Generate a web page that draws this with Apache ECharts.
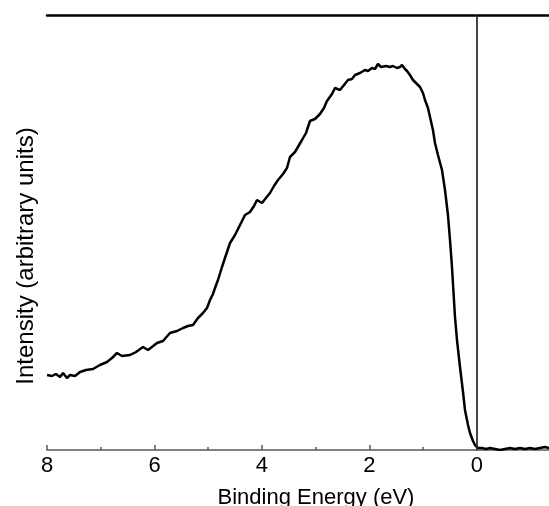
<!DOCTYPE html>
<html>
<head>
<meta charset="utf-8">
<script src="https://cdn.jsdelivr.net/npm/echarts@6/dist/echarts.min.js"></script>
<style>html,body{margin:0;padding:0;background:#fff;}#c{width:549px;height:506px;}</style>
</head>
<body>
<div id="c"></div>
<script>
// Binding energy (eV) of each sample
var energy = [8.000,7.907,7.833,7.758,7.702,7.628,7.572,7.479,7.386,7.274,7.144,7.014,6.884,6.791,6.698,6.605,6.456,6.344,6.214,6.121,5.953,5.842,5.712,5.581,5.470,5.377,5.284,5.191,5.098,5.023,4.967,4.912,4.874,4.819,4.744,4.670,4.595,4.502,4.409,4.316,4.223,4.149,4.093,4.000,3.926,3.851,3.777,3.702,3.609,3.535,3.479,3.386,3.256,3.181,3.107,3.014,2.921,2.847,2.791,2.698,2.642,2.549,2.474,2.400,2.326,2.270,2.177,2.084,2.028,1.953,1.898,1.842,1.786,1.749,1.693,1.619,1.563,1.488,1.433,1.395,1.340,1.302,1.247,1.191,1.116,1.060,1.005,0.967,0.912,0.874,0.819,0.781,0.726,0.651,0.595,0.540,0.502,0.465,0.409,0.372,0.316,0.260,0.223,0.167,0.130,0.074,0.037,-0.019,-0.093,-0.167,-0.242,-0.335,-0.428,-0.521,-0.614,-0.707,-0.800,-0.893,-0.986,-1.079,-1.172,-1.265,-1.340];
// Intensity (arbitrary units)
var intensity = [76,75,77,74,78,73,76,75,79,81,82,86,89,93,98,95,96,99,104,101,108,110,118,120,123,125,126,133,138,143,151,157,163,171,184,196,208,216,226,236,239,245,251,248,253,258,265,271,277,283,294,299,311,318,330,332,337,343,350,357,363,361,366,371,372,376,378,381,380,383,382,387,384,382,385,384,385,383,384,386,382,380,376,371,367,364,358,351,343,334,321,308,296,281,261,236,211,184,134,111,84,59,41,26,18,10,6,3,3,2,3,2,1,2,3,2,3,2,3,2,3,4,3];
var xTicks = [8, 6, 4, 2, 0];
var fermiLevel = [0];
var xMin = -8, xMax = 1.34;

var seriesData = energy.map(function (e, i) { return [-e, intensity[i]]; });

var chart = echarts.init(document.getElementById('c'), null, {renderer: 'canvas'});
var font = 'Liberation Sans, Arial, Helvetica, sans-serif';
var grey = '#5a5a5a';
chart.setOption({
  animation: false,
  backgroundColor: '#fff',
  grid: {left: 47, right: 0, top: 15, bottom: 56, containLabel: false},
  xAxis: [{
    type: 'value', min: xMin, max: xMax, interval: 2,
    axisLine: {show: true, onZero: false, lineStyle: {color: grey, width: 1.5}},
    axisTick: {show: true, inside: true, length: 5, lineStyle: {color: grey, width: 1.5}},
    splitLine: {show: false},
    axisLabel: {
      margin: 5, color: '#000', fontSize: 22, fontFamily: font, showMaxLabel: false,
      formatter: function (v) { var r = -v; return xTicks.indexOf(r) >= 0 ? String(Math.abs(r)) : ''; }
    }
  }, {
    type: 'value', position: 'top', min: xMin, max: xMax,
    axisLine: {show: true, onZero: false, lineStyle: {color: '#000', width: 2.5}},
    axisTick: {show: false}, axisLabel: {show: false}, splitLine: {show: false}
  }, {
    type: 'value', position: 'bottom', min: xMin, max: xMax, interval: 1,
    axisLine: {show: false, onZero: false},
    axisTick: {show: true, inside: true, length: 3, lineStyle: {color: grey, width: 1.5}},
    axisLabel: {show: false}, splitLine: {show: false}
  }],
  yAxis: {
    type: 'value', min: 1, max: 436,
    axisLine: {show: true, lineStyle: {color: grey, width: 1.5}},
    axisTick: {show: false}, axisLabel: {show: false}, splitLine: {show: false}
  },
  graphic: [{
    type: 'text', x: 26, y: 256, rotation: Math.PI / 2,
    style: {text: 'Intensity (arbitrary units)', fontSize: 24, fontFamily: font, fill: '#000', align: 'center', verticalAlign: 'middle'}
  }, {
    type: 'text', x: 316, y: 498,
    style: {text: 'Binding Energy (eV)', fontSize: 22, fontFamily: font, fill: '#000', align: 'center', verticalAlign: 'middle'}
  }],
  series: [{
    type: 'line', data: seriesData, showSymbol: false, smooth: false,
    lineStyle: {color: '#000', width: 2.5},
    markLine: {
      silent: true, symbol: ['none', 'none'], label: {show: false},
      lineStyle: {color: '#333', width: 1.5, type: 'solid'},
      data: fermiLevel.map(function (v) { return {xAxis: -v}; })
    }
  }]
});
</script>
</body>
</html>
